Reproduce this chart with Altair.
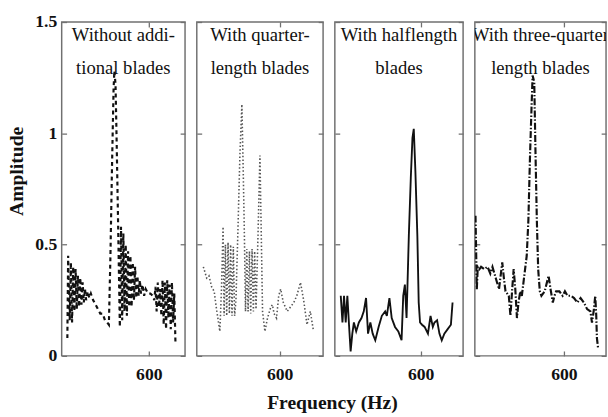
import altair as alt
import pandas as pd

FONT = "Liberation Serif"

titles = ["Without addi-\ntional blades", "With quarter-\nlength blades",
          "With halflength\nblades", "With three-quarter\nlength blades"]

f1 = [496, 497, 499, 500.5, 502, 503.5, 505, 506.5, 508, 509.5, 511, 512.5, 514, 515.5, 517, 518.5,
      520, 522, 524, 526, 529, 532, 535, 538, 541, 544, 547, 549, 551, 553, 555, 556, 557.5, 559,
      561, 563, 564.5, 566, 567.5, 569, 570.5, 572, 573.5, 575, 576.5, 578, 579.5, 581, 582.5, 584,
      585.5, 587, 588.5, 590, 592, 594, 596, 599, 602, 605, 607, 608.5, 610, 611.5, 613, 614.5, 616,
      617.5, 619, 620.5, 622, 623.5, 625, 626.5, 628, 629.5, 631, 632.5, 634]
a1 = [0.08, 0.45, 0.16, 0.42, 0.15, 0.40, 0.20, 0.39, 0.21, 0.36, 0.22, 0.35, 0.23, 0.33, 0.24, 0.30,
      0.25, 0.29, 0.26, 0.28, 0.25, 0.23, 0.21, 0.19, 0.19, 0.16, 0.15, 0.14, 0.45, 0.85, 1.20, 1.28,
      1.22, 0.95, 0.55, 0.13, 0.58, 0.16, 0.55, 0.20, 0.50, 0.18, 0.47, 0.22, 0.45, 0.22, 0.42, 0.25,
      0.40, 0.26, 0.36, 0.27, 0.34, 0.28, 0.32, 0.27, 0.30, 0.28, 0.28, 0.27, 0.25, 0.31, 0.20, 0.33,
      0.22, 0.30, 0.18, 0.34, 0.14, 0.33, 0.12, 0.34, 0.17, 0.32, 0.12, 0.33, 0.15, 0.28, 0.06]

f2 = [503.3, 507.5, 510.4, 513.8, 517, 520, 524.2, 526.3, 528.3, 529.6, 531.3, 532.9, 534.6, 536.3,
      537.9, 539.6, 541.3, 542.9, 544.6, 547, 549.6, 552.1, 554, 555.4, 556.7, 558.3, 560, 561.7,
      563.3, 565, 566.7, 568.3, 570, 572.1, 575, 578.3, 581.3, 584.6, 588.8, 590.8, 592.9, 596,
      598.8, 601.3, 604.6, 609.6, 613.8, 617.9, 621.7, 626.3, 630.4, 634.6, 636.7, 638.8, 642.9]
a2 = [0.40, 0.35, 0.36, 0.31, 0.29, 0.21, 0.11, 0.30, 0.58, 0.18, 0.50, 0.18, 0.51, 0.19, 0.50, 0.18,
      0.49, 0.18, 0.25, 0.55, 0.90, 1.13, 0.80, 0.52, 0.20, 0.48, 0.20, 0.47, 0.19, 0.48, 0.20, 0.47,
      0.21, 0.48, 0.90, 0.20, 0.11, 0.17, 0.22, 0.23, 0.19, 0.17, 0.27, 0.30, 0.24, 0.20, 0.22, 0.24,
      0.27, 0.33, 0.25, 0.14, 0.17, 0.20, 0.11]

f3 = [498.75, 500.9, 502.9, 505, 507.1, 509.2, 511.25, 513.4, 515.4, 518.3, 521.7, 525, 527.9, 530.8,
      533.3, 536.25, 539.2, 542.5, 546.7, 550.8, 555, 557.1, 560.4, 563.3, 567.5, 571.7, 575.8, 577.9,
      580, 582.1, 583.3, 585, 587.5, 589.6, 591.25, 593.3, 595.8, 597.5, 599.2, 601.7, 605, 609.2,
      612.5, 615.4, 617.5, 620.8, 623.75, 626.7, 630, 634.2, 638.3, 640.4]
a3 = [0.27, 0.15, 0.27, 0.15, 0.27, 0.14, 0.02, 0.10, 0.15, 0.11, 0.15, 0.17, 0.20, 0.26, 0.10, 0.15,
      0.10, 0.07, 0.13, 0.18, 0.20, 0.18, 0.26, 0.17, 0.13, 0.11, 0.07, 0.27, 0.32, 0.17, 0.32, 0.54,
      0.80, 0.98, 1.02, 0.83, 0.54, 0.24, 0.15, 0.14, 0.13, 0.10, 0.18, 0.13, 0.15, 0.16, 0.10, 0.07,
      0.10, 0.12, 0.14, 0.24]

f4 = [487.1, 488.75, 490, 492.1, 494.2, 498.3, 502.5, 506, 508.75, 512.9, 517.1, 521.25, 523.3, 525.4,
      529.6, 531.7, 533.75, 535.8, 537.9, 540, 542, 544.2, 546.25, 550.4, 552.5, 554.6, 556.7, 558.75,
      560, 562.1, 563.75, 565.4, 567.1, 569.2, 571.25, 575.4, 580.4, 582.9, 585.8, 587.9, 590, 594.2,
      598.3, 601.25, 604.6, 608.75, 612.9, 617.1, 621.25, 625.4, 629.6, 633.75, 635.8, 637.9, 640,
      641.25, 642.1, 643.75]
a4 = [0.63, 0.30, 0.40, 0.39, 0.40, 0.39, 0.40, 0.37, 0.40, 0.35, 0.30, 0.42, 0.35, 0.29, 0.27, 0.18,
      0.29, 0.39, 0.30, 0.17, 0.24, 0.29, 0.27, 0.39, 0.45, 0.61, 0.90, 1.13, 1.26, 1.23, 0.90, 0.61,
      0.39, 0.29, 0.27, 0.29, 0.36, 0.30, 0.24, 0.27, 0.29, 0.29, 0.27, 0.29, 0.27, 0.27, 0.26, 0.24,
      0.26, 0.24, 0.21, 0.20, 0.15, 0.20, 0.27, 0.18, 0.08, 0.03]

freqs = [f1, f2, f3, f4]
amps = [a1, a2, a3, a4]
x_domains = [[488.75, 646.25], [495, 655], [491.25, 653.75], [486.25, 653.75]]
x_ticks = [600]
y_ticks = [0, 0.5, 1, 1.5]

widths = [126, 129, 131, 134]
H = 341
styles = [
    dict(strokeDash=[4, 3.5], strokeWidth=2.2, color="#111111"),
    dict(strokeDash=[1.5, 2.2], strokeWidth=1.6, color="#555555"),
    dict(strokeWidth=1.9, color="#111111"),
    dict(strokeDash=[7, 2, 1.5, 2], strokeWidth=2.2, color="#111111"),
]
TICK = "#707070"


def panel(i):
    df = pd.DataFrame({"f": freqs[i], "a": amps[i]})
    xs = alt.Scale(domain=x_domains[i], nice=False, zero=False)
    ys = alt.Scale(domain=[0, 1.5], nice=False)
    first = i == 0
    left_kw = dict(values=y_ticks, domain=False, grid=False, offset=-5, tickSize=5,
                   labels=first, labelPadding=5, format="~g", title=None)
    if first:
        left_kw.update(title="Amplitude", titlePadding=8, titleY=152)
    left_axis = alt.Axis(**left_kw)
    bottom_axis = alt.Axis(values=x_ticks, domain=False, grid=False, offset=-5, tickSize=5,
                           labelPadding=10, title=None)
    top_axis = alt.Axis(values=x_ticks, domain=False, grid=False, offset=-5, tickSize=5,
                        labels=False, title=None, orient="top")
    right_axis = alt.Axis(values=y_ticks, domain=False, grid=False, offset=-5, tickSize=5,
                          labels=False, title=None, orient="right")
    line = alt.Chart(df).mark_line(clip=True, **styles[i]).encode(
        x=alt.X("f:Q", scale=xs, axis=bottom_axis),
        y=alt.Y("a:Q", scale=ys, axis=left_axis),
        order="f:Q",
    )
    ghost = alt.Chart(df).mark_line(strokeOpacity=0).encode(
        x=alt.X("f:Q", scale=xs, axis=top_axis),
        y=alt.Y("a:Q", scale=ys, axis=right_axis),
    )
    text = alt.Chart(pd.DataFrame({"t": [titles[i]]})).mark_text(
        font=FONT, fontSize=19, lineBreak="\n", lineHeight=34, baseline="alphabetic",
        align="center", color="#111111", clip=True,
    ).encode(text="t:N", x=alt.value(widths[i] / 2), y=alt.value(19))
    return alt.layer(line, ghost, text).resolve_axis(
        x="independent", y="independent"
    ).properties(width=widths[i], height=H)


chart = alt.hconcat(*[panel(i) for i in range(4)], spacing=8).properties(
    title=alt.TitleParams("Frequency (Hz)", orient="bottom", anchor="middle", font=FONT,
                          fontSize=20, fontWeight="bold", color="#111111", offset=10, dx=26),
    padding={"left": 6, "top": 8, "right": 0, "bottom": 2},
    background="white",
).configure_view(stroke=TICK, strokeWidth=1.5).configure_axis(
    tickColor=TICK, tickWidth=1.3, labelFont=FONT, labelFontSize=18, labelFontWeight="bold",
    labelColor="#111111", titleFont=FONT, titleFontSize=20, titleFontWeight="bold",
    titleColor="#111111",
)

chart.save("out.html", embed_options={"renderer": "svg", "actions": False})
